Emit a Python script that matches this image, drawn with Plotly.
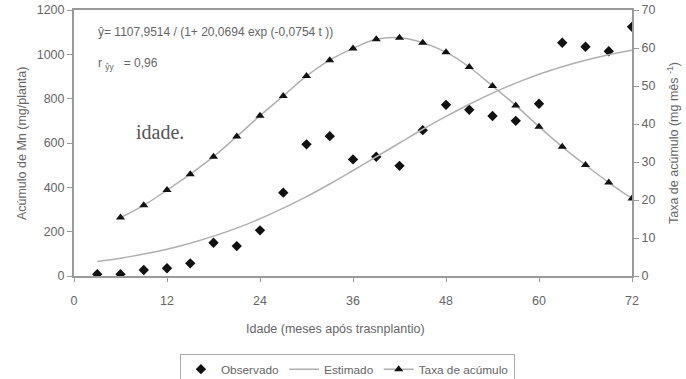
import plotly.graph_objects as go

# Data
t_obs = [3, 6, 9, 12, 15, 18, 21, 24, 27, 30, 33, 36, 39, 42, 45, 48, 51, 54, 57, 60, 63, 66, 69, 72]
observado = [8, 8, 27, 35, 57, 150, 135, 206, 376, 594, 631, 526, 538, 497, 658, 772, 750, 722, 700, 777, 1052, 1034, 1014, 1124]

t_est = [3, 6, 9, 12, 15, 18, 21, 24, 27, 30, 33, 36, 39, 42, 45, 48, 51, 54, 57, 60, 63, 66, 69, 72]
estimado = [65, 80, 99, 121, 148, 180, 216, 258, 306, 358, 415, 476, 538, 600, 662, 720, 775, 825, 870, 910, 944, 973, 998, 1018]

t_taxa = [6, 9, 12, 15, 18, 21, 24, 27, 30, 33, 36, 39, 42, 45, 48, 51, 54, 57, 60, 63, 66, 69, 72]
taxa = [15.4, 18.6, 22.6, 26.8, 31.4, 36.7, 42.2, 47.4, 52.6, 56.8, 59.9, 62.3, 62.7, 61.4, 58.9, 55.0, 50.0, 44.9, 39.3, 34.0, 29.2, 24.6, 20.4]

x_ticks = [0, 12, 24, 36, 48, 60, 72]
y_ticks = [0, 200, 400, 600, 800, 1000, 1200]
y2_ticks = [0, 10, 20, 30, 40, 50, 60, 70]

AX = "#9a9a9a"
TXT = "#666666"
FONT = "Liberation Sans, Arial, sans-serif"
FS = 12.5

fig = go.Figure()
fig.add_trace(go.Scatter(
    x=t_obs, y=observado, mode="markers", name="Observado",
    marker=dict(symbol="diamond", size=8, color="#111111"),
))
fig.add_trace(go.Scatter(
    x=t_est, y=estimado, mode="lines", name="Estimado",
    line=dict(color="#b0b0b0", width=1.5, shape="spline"),
))
fig.add_trace(go.Scatter(
    x=t_taxa, y=taxa, mode="lines+markers", name="Taxa de acúmulo", yaxis="y2",
    line=dict(color="#b0b0b0", width=1.5, shape="spline"),
    marker=dict(symbol="triangle-up", size=8, color="#111111"),
))

fig.update_layout(
    width=686, height=379,
    margin=dict(l=74, r=54, t=10, b=103, autoexpand=False),
    paper_bgcolor="white", plot_bgcolor="white",
    font=dict(family=FONT, size=FS, color=TXT),
    showlegend=True,
    legend=dict(
        orientation="h", x=0.49, xanchor="center", y=-0.292, yanchor="top",
        bordercolor="#aaaaaa", borderwidth=1, font=dict(size=11.8, color=TXT),
        itemwidth=30, tracegroupgap=0,
    ),
    xaxis=dict(
        range=[0, 72], tickvals=x_ticks, showgrid=False, zeroline=False,
        showline=True, linecolor=AX, linewidth=2, mirror=True,
        ticks="outside", ticklen=4, tickcolor=AX, ticklabelstandoff=8,
        tickfont=dict(size=FS, color=TXT),
    ),
    yaxis=dict(
        range=[0, 1200], tickvals=y_ticks, showgrid=False, zeroline=False,
        showline=True, linecolor=AX, linewidth=2,
        ticks="outside", ticklen=5, tickcolor=AX,
        tickfont=dict(size=FS, color=TXT),
    ),
    yaxis2=dict(
        range=[0, 70], tickvals=y2_ticks, overlaying="y", side="right",
        showgrid=False, zeroline=False, showline=True, linecolor=AX, linewidth=2,
        ticks="outside", ticklen=5, tickcolor=AX,
        tickfont=dict(size=FS, color=TXT),
    ),
)

ann = [
    dict(text="Acúmulo de Mn (mg/planta)", x=-0.093, y=0.5, textangle=-90),
    dict(text="Taxa de acúmulo (mg mês <sup>-1</sup>)", x=1.0735, y=0.5, textangle=-90),
    dict(text="Idade (meses após trasnplantio)", x=0.468, y=-0.199),
]
for a in ann:
    fig.add_annotation(xref="paper", yref="paper", showarrow=False,
                       xanchor="center", yanchor="middle",
                       font=dict(family=FONT, size=FS, color=TXT), **a)

fig.add_annotation(xref="paper", yref="paper", x=(96 - 74) / 558, y=(276 - 32) / 266,
                   xanchor="left", yanchor="middle", showarrow=False,
                   text="ŷ= 1107,9514 / (1+ 20,0694 exp (-0,0754 t ))",
                   font=dict(family=FONT, size=12, color=TXT))
fig.add_annotation(xref="paper", yref="paper", x=(96 - 74) / 558, y=(276 - 64) / 266,
                   xanchor="left", yanchor="middle", showarrow=False,
                   text="r <sub>ŷy</sub>   = 0,96",
                   font=dict(family=FONT, size=12, color=TXT))
fig.add_annotation(xref="paper", yref="paper", x=(160 - 74) / 558, y=(276 - 132) / 266,
                   xanchor="center", yanchor="middle", showarrow=False,
                   text="idade.",
                   font=dict(family="Liberation Serif, Times New Roman, serif", size=20, color="#555555"))

fig.write_html("out.html")
